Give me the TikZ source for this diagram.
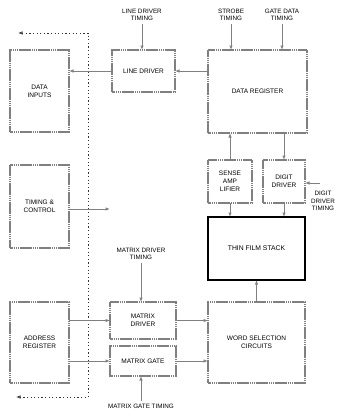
\documentclass[tikz,border=0pt]{standalone}
\usepackage{fontspec}
\setmainfont{Liberation Sans}
\usetikzlibrary{arrows.meta}
\begin{document}
\begin{tikzpicture}[x=1pt,y=-1pt,
  box/.style={draw=black!50, line width=1.1pt, dash pattern=on 1.5pt off 0.4pt, align=center, inner sep=1pt, outer sep=0pt,
    font=\fontsize{6.5}{8}\selectfont},
  thick box/.style={draw=black, line width=2pt, align=center, outer sep=0pt,
    font=\fontsize{6.8}{8}\selectfont},
  lbl/.style={align=center, inner sep=1pt, font=\fontsize{6.3}{7.5}\selectfont},
  conn/.style={draw=black!50, line width=0.9pt, -{Latex[open,length=4.5pt,width=3.5pt]}},
  bus/.style={draw=black!80, line width=0.7pt, dash pattern=on 1.2pt off 2.4pt,
    {Latex[open,length=4.5pt,width=3.5pt]}-{Latex[open,length=4.5pt,width=3.5pt]}}
]
\useasboundingbox (0,0) rectangle (343,418);

% left column
\node[box, minimum width=59pt, minimum height=82pt] (datain) at (39.5,91) {DATA\\INPUTS};
\node[box, minimum width=59pt, minimum height=83pt] (tc) at (39.5,206.5) {TIMING \&\\CONTROL};
\node[box, minimum width=59pt, minimum height=81pt] (addr) at (39.5,342.5) {ADDRESS\\REGISTER};

% middle column
\node[box, minimum width=63pt, minimum height=42pt] (linedrv) at (143.5,71) {LINE DRIVER};
\node[box, minimum width=66pt, minimum height=37pt] (mdrv) at (143,320.5) {MATRIX\\DRIVER};
\node[box, minimum width=66pt, minimum height=30pt] (mgate) at (143,361) {MATRIX GATE};

% right column
\node[box, minimum width=99pt, minimum height=83pt] (datareg) at (257.5,91.5) {DATA REGISTER};
\node[box, minimum width=44pt, minimum height=43pt] (sense) at (230,181.5) {SENSE\\AMP\\LIFIER};
\node[box, minimum width=42pt, minimum height=43pt] (digit) at (284,181.5) {DIGIT\\DRIVER};
\node[thick box, minimum width=97pt, minimum height=63pt] (thin) at (256.5,248.5) {THIN FILM STACK};
\node[box, minimum width=97pt, minimum height=81pt] (word) at (256.5,342.5) {WORD SELECTION\\CIRCUITS};

% timing labels
\node[lbl] (ldt) at (142,15) {LINE DRIVER\\TIMING};
\node[lbl] (stt) at (231,15) {STROBE\\TIMING};
\node[lbl] (gdt) at (282,15) {GATE DATA\\TIMING};
\node[lbl] (ddtl) at (323,201) {DIGIT\\DRIVER\\TIMING};
\node[lbl] (mdt) at (141,254) {MATRIX DRIVER\\TIMING};
\node[lbl] (mgt) at (141,406) {MATRIX GATE TIMING};

% bus
\coordinate (btl) at (18,33);
\coordinate (bt) at (88,33);
\coordinate (bb) at (88,397);
\coordinate (bbl) at (16,397);
\draw[bus] (btl) -- (bt) -- (bb) -- (bbl);

% timing arrows
\draw[conn] ([yshift=-2pt]ldt.south) -- (ldt.south |- linedrv.north);
\draw[conn] ([yshift=-2pt]stt.south) -- (stt.south |- datareg.north);
\draw[conn] ([yshift=-2pt]gdt.south) -- (gdt.south |- datareg.north);
\coordinate (ddt) at (320,183);
\draw[conn] (ddt) -- (ddt -| digit.east);
\draw[conn] ([yshift=-2pt]mdt.south) -- (mdt.south |- mdrv.north);
\draw[conn] ([yshift=2pt]mgt.north) -- (mgt.north |- mgate.south);

% data path
\draw[conn] (linedrv.west) -- (linedrv.west -| datain.east);
\draw[conn] (datareg.west |- linedrv.east) -- (linedrv.east);
\draw[conn] (sense.north) -- (sense.north |- datareg.south);
\draw[conn] (digit.north |- datareg.south) -- (digit.north);
\draw[conn] (sense.south) -- (sense.south |- thin.north);
\draw[conn] (digit.south) -- (digit.south |- thin.north);
\draw[conn] (word.north) -- (thin.south);

% address path
\draw[conn] (addr.east |- mdrv.west) -- (mdrv.west);
\draw[conn] (addr.east |- mgate.west) -- (mgate.west);
\draw[conn] (mdrv.east) -- (mdrv.east -| word.west);
\draw[conn] (mgate.east) -- (mgate.east -| word.west);

% timing & control output
\coordinate (tce) at (110,209);
\draw[conn] (tc.east |- tce) -- (tce);
\end{tikzpicture}
\end{document}
